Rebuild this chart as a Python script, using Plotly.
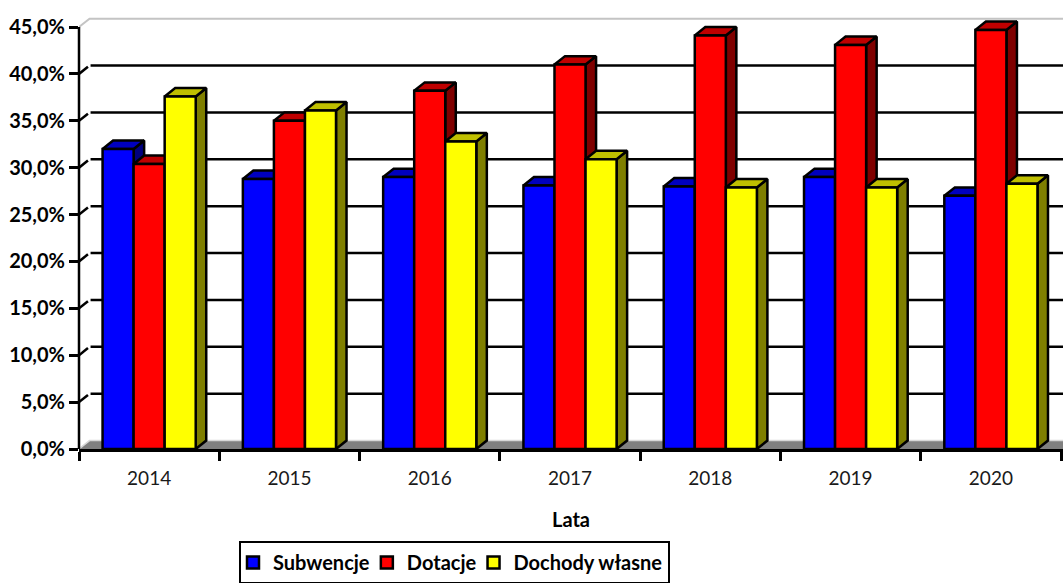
import plotly.graph_objects as go

YEARS = ["2014", "2015", "2016", "2017", "2018", "2019", "2020"]
SUBWENCJE = [32.0, 28.8, 29.0, 28.1, 28.0, 29.0, 27.0]
DOTACJE = [30.4, 35.0, 38.2, 41.0, 44.1, 43.1, 44.7]
DOCHODY = [37.6, 36.1, 32.8, 30.9, 27.9, 27.9, 28.3]
Y_TICKS = [0, 5, 10, 15, 20, 25, 30, 35, 40, 45]
Y_LABELS = ["0,0%", "5,0%", "10,0%", "15,0%", "20,0%", "25,0%", "30,0%", "35,0%", "40,0%", "45,0%"]

SERIES = [
    ("Subwencje", SUBWENCJE, "#0000FF", "#0000BF", "#00007F"),
    ("Dotacje", DOTACJE, "#FF0000", "#BF0000", "#7F0000"),
    ("Dochody własne", DOCHODY, "#FFFF00", "#BFBF00", "#7F7F00"),
]

DX = 0.075
DY = 0.9
BARGAP = 0.336
BAR_W = (1 - BARGAP) / 3
N = len(YEARS)
X_MAX = N + 0.014
Y_TOP = 45
Y_MAX = 46.5
CENTERS = [i + 0.5 for i in range(N)]
FONT = "Lato, Carlito, sans-serif"
LW = 2.5

fig = go.Figure()

# back wall: gridlines and stubs
gx, gy, sx, sy = [], [], [], []
for v in Y_TICKS[1:-1]:
    gx += [DX * 1.1, X_MAX, None]
    gy += [v + DY, v + DY, None]
    sx += [0, DX * 0.85, None]
    sy += [v, v + DY * 0.85, None]
fig.add_trace(go.Scatter(x=sx, y=sy, mode="lines", line=dict(color="black", width=LW),
                         showlegend=False, hoverinfo="skip"))
fig.add_trace(go.Scatter(x=gx, y=gy, mode="lines", line=dict(color="black", width=LW),
                         showlegend=False, hoverinfo="skip"))
fig.add_trace(go.Scatter(x=[0, DX, X_MAX], y=[Y_TOP, Y_TOP + DY, Y_TOP + DY], mode="lines",
                         line=dict(color="#C4C4C4", width=2),
                         showlegend=False, hoverinfo="skip"))
# floor
fig.add_trace(go.Scatter(x=[0, DX, X_MAX, X_MAX, 0], y=[0, DY, DY, 0, 0], mode="lines", fill="toself",
                         fillcolor="#808080", line=dict(color="#808080", width=0),
                         showlegend=False, hoverinfo="skip"))
fig.add_trace(go.Scatter(x=[0, DX, X_MAX], y=[0, DY, DY], mode="lines",
                         line=dict(color="#D8D8D8", width=1.5),
                         showlegend=False, hoverinfo="skip"))

# depth faces of each bar, worked out from the values
for k, (name, vals, front, top, side) in enumerate(SERIES):
    sidex, sidey, topx, topy = [], [], [], []
    for c, v in zip(CENTERS, vals):
        left = c + (k - 1.5) * BAR_W
        right = left + BAR_W
        sidex += [right, right + DX, right + DX, right, right, None]
        sidey += [0, DY, v + DY, v, 0, None]
        topx += [left, left + DX, right + DX, right, left, None]
        topy += [v, v + DY, v + DY, v, v, None]
    for xs, ys, col in ((sidex, sidey, side), (topx, topy, top)):
        fig.add_trace(go.Scatter(x=xs, y=ys, mode="lines", fill="toself", fillcolor=col,
                                 line=dict(color="black", width=LW), showlegend=False,
                                 hoverinfo="skip"))

# front faces, on overlaid axes so they sit above the depth faces
for name, vals, front, top, side in SERIES:
    fig.add_trace(go.Bar(x=CENTERS, y=vals, name=name, xaxis="x2", yaxis="y2",
                         marker=dict(color=front, line=dict(color="black", width=LW))))

fig.update_layout(
    width=1063, height=583, autosize=False,
    margin=dict(l=79, r=0, t=13, b=134, autoexpand=False),
    paper_bgcolor="white", plot_bgcolor="white",
    barmode="group", bargap=BARGAP, bargroupgap=0,
    font=dict(family=FONT, color="black"),
    xaxis=dict(
        range=[0, X_MAX], tickvals=CENTERS, ticktext=YEARS, showgrid=False, zeroline=False,
        showline=True, linecolor="black", linewidth=LW,
        ticks="outside", ticklen=10, tickcolor="rgba(0,0,0,0)",
        tickfont=dict(family=FONT, size=19, color="#1a1a1a"),
        minor=dict(tickvals=list(range(N + 1)), ticks="outside", ticklen=9, tickwidth=LW,
                   tickcolor="black", showgrid=False),
        title=dict(text="<b>Lata</b>", font=dict(family=FONT, size=20, color="black"), standoff=26),
    ),
    yaxis=dict(
        range=[0, Y_MAX], tickvals=Y_TICKS, ticktext=[f"<b>{t}</b>" for t in Y_LABELS],
        showgrid=False, zeroline=False, showline=False,
        ticks="outside", ticklen=9, tickwidth=LW, tickcolor="black",
        tickfont=dict(family=FONT, size=20, color="black"),
    ),
    xaxis2=dict(range=[0, X_MAX], overlaying="x", visible=False),
    yaxis2=dict(range=[0, Y_MAX], overlaying="y", visible=False),
    shapes=[dict(type="line", xref="paper", yref="y", x0=0, x1=0, y0=0, y1=Y_TOP,
                 line=dict(color="black", width=LW))],
    legend=dict(
        orientation="h", x=0.1626, xanchor="left", y=-0.211, yanchor="top",
        xref="paper", yref="paper", bgcolor="white", bordercolor="black", borderwidth=2,
        font=dict(family=FONT, size=20, color="black", weight="bold"),
        traceorder="normal", indentation=-8,
    ),
    showlegend=True,
)

fig.write_html("out.html", config={"displayModeBar": False},
               post_script="document.body.style.margin='0';document.body.style.overflow='hidden';")
